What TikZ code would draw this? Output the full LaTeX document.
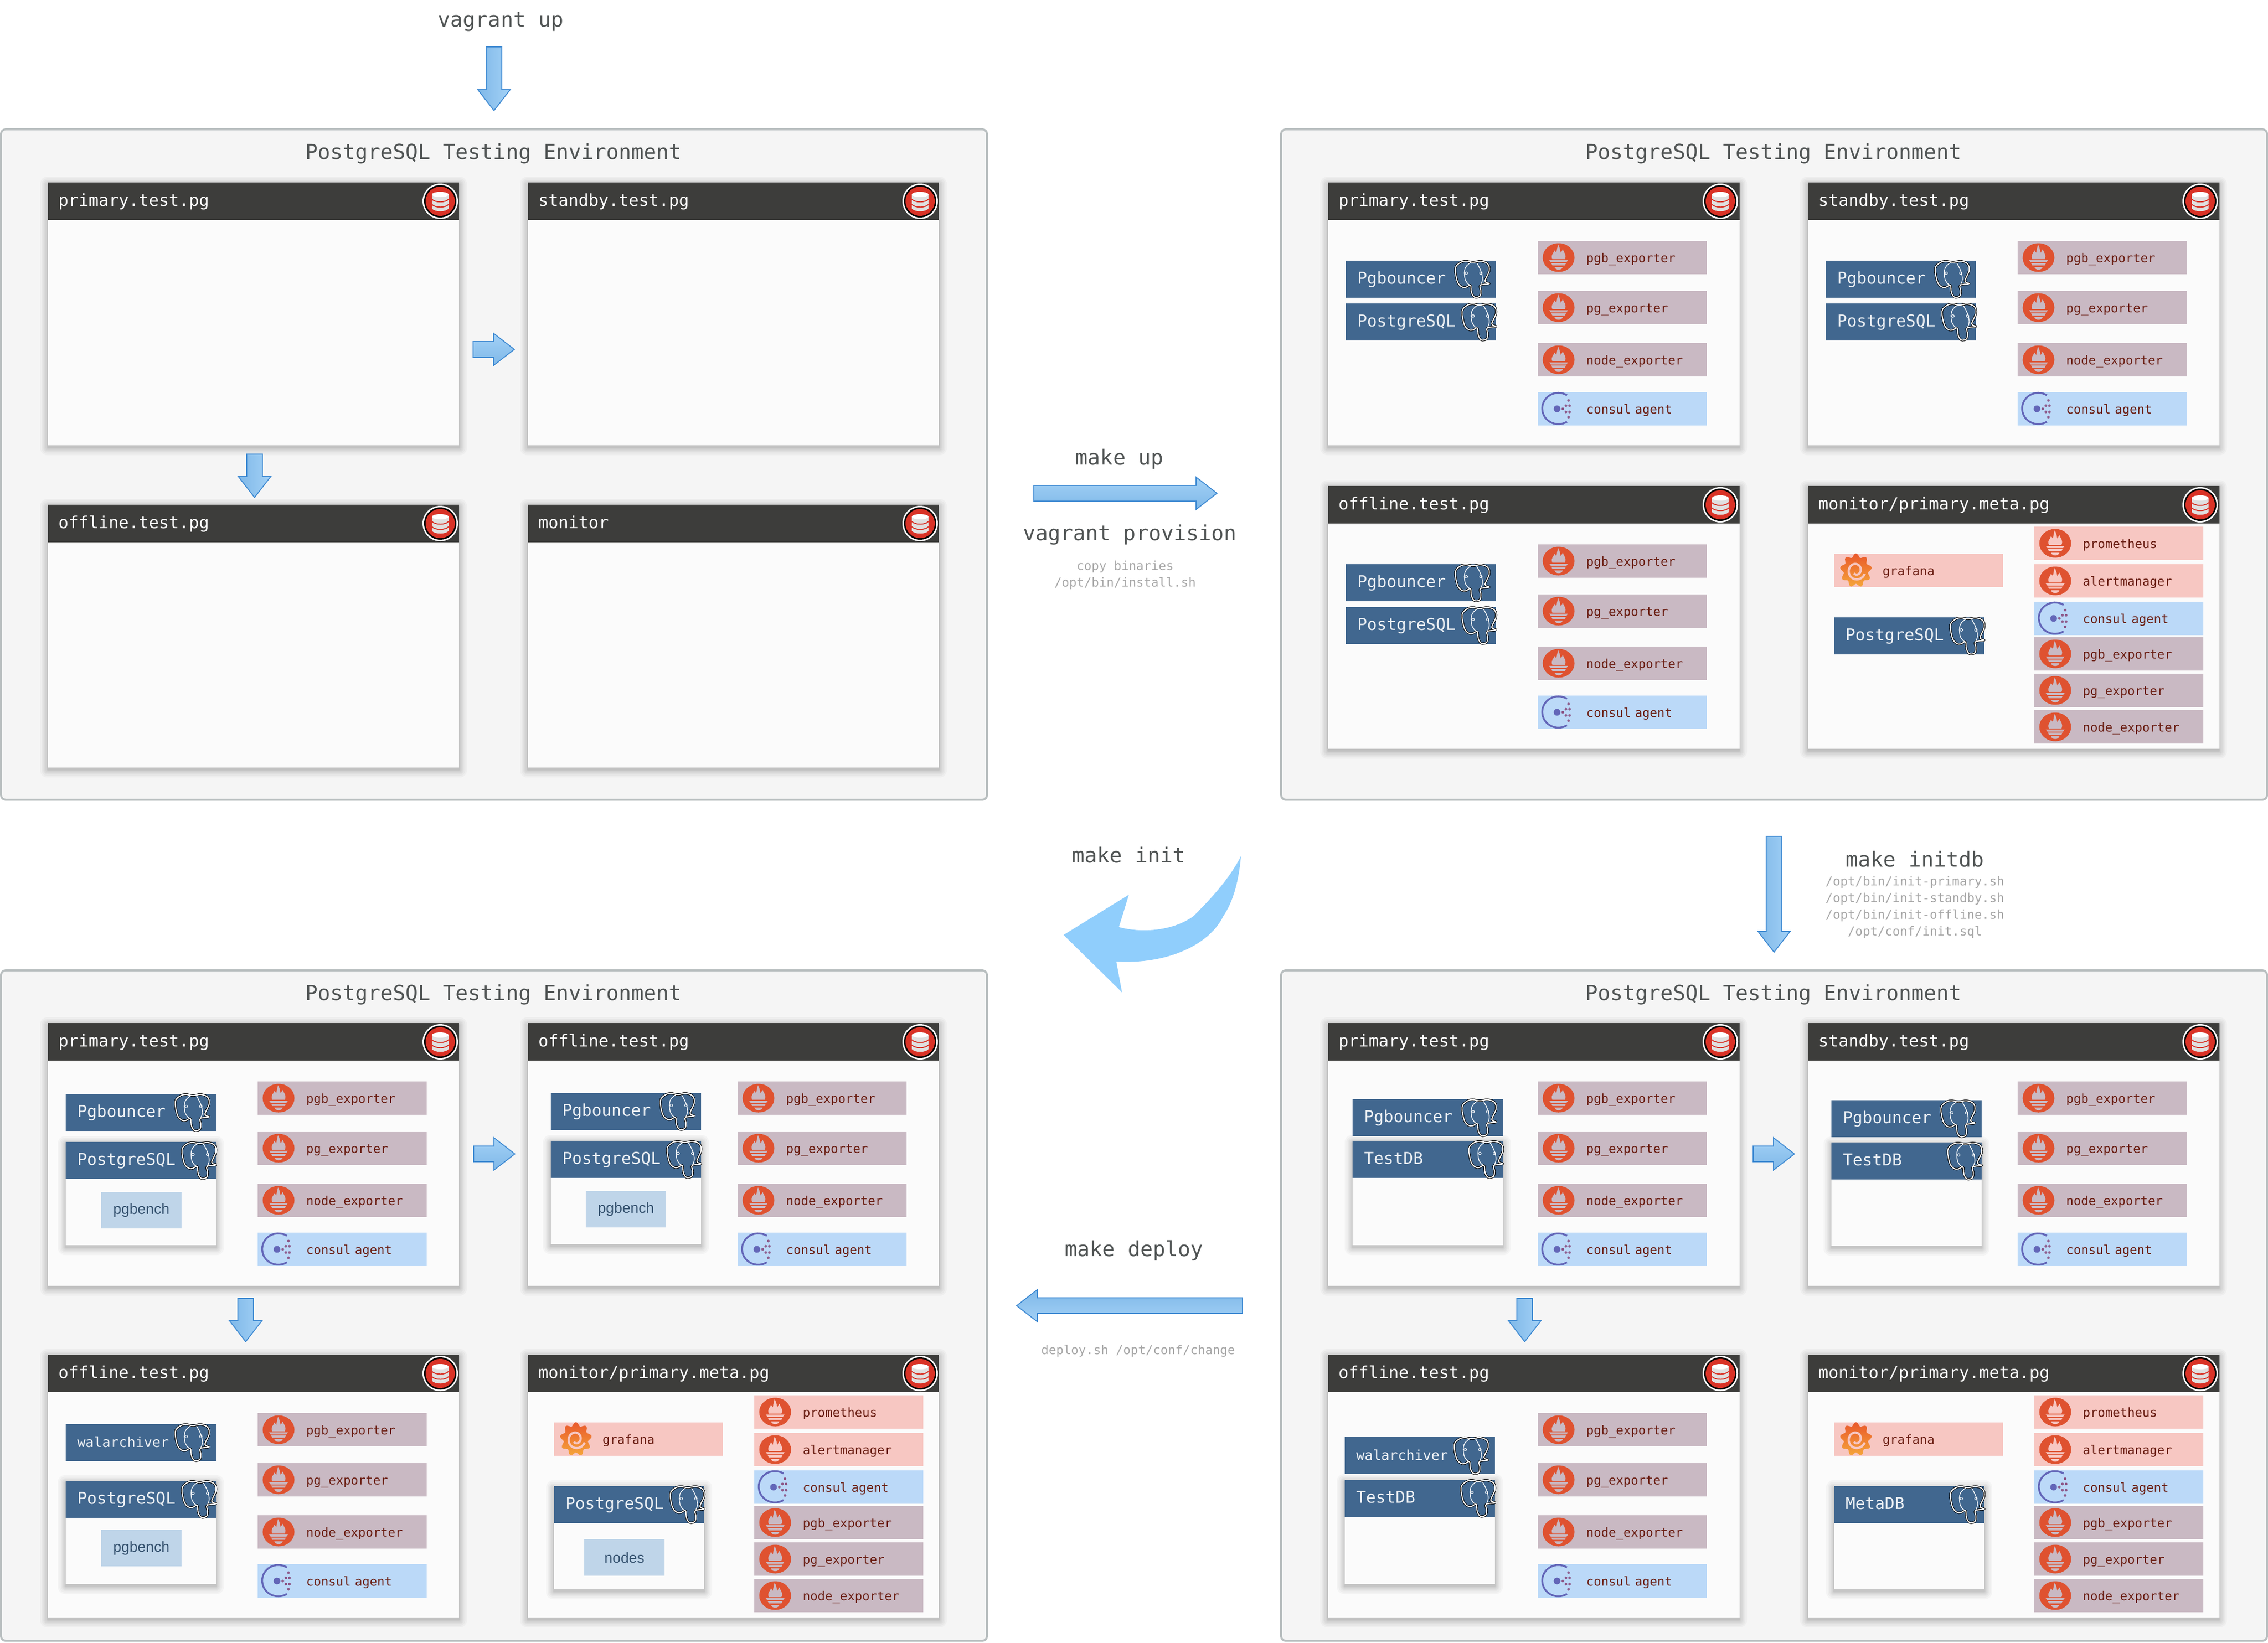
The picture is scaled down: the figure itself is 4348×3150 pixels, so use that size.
\documentclass[tikz,border=0pt]{standalone}
\usepackage{fontspec}
\newfontfamily\monofamily{DejaVu Sans Mono}
\newfontfamily\toolfamily{Liberation Sans}
\newcommand{\envfont}{\monofamily\fontsize{11.35}{13}\selectfont}
\newcommand{\headfont}{\monofamily\fontsize{9.1}{11}\selectfont}
\newcommand{\boxfont}{\monofamily\fontsize{8.9}{11}\selectfont}
\newcommand{\agentfont}{\monofamily\fontsize{6.73}{8}\selectfont}
\newcommand{\notefont}{\monofamily\fontsize{6.75}{9.05}\selectfont}
\newcommand{\toolfont}{\toolfamily\fontsize{8}{10}\selectfont}
\definecolor{envfill}{HTML}{F5F5F5}
\definecolor{envline}{HTML}{B9BFC0}
\definecolor{cardfill}{HTML}{FBFBFB}
\definecolor{headfill}{HTML}{3D3D3B}
\definecolor{pgblue}{HTML}{41678F}
\definecolor{agentfill}{HTML}{C9B9C3}
\definecolor{consulfill}{HTML}{BBD9F8}
\definecolor{metafill}{HTML}{F7C7C2}
\definecolor{toolfill}{HTML}{BFD5E9}
\definecolor{tooltext}{HTML}{35526F}
\definecolor{agenttext}{HTML}{6B1F14}
\definecolor{flame}{HTML}{DF5230}
\definecolor{dbred}{HTML}{D93327}
\definecolor{consularc}{HTML}{6366B8}
\definecolor{consuldot}{HTML}{8E5A8A}
\definecolor{graftop}{HTML}{E9582B}
\definecolor{graflow}{HTML}{F5A53A}
\definecolor{arrowline}{HTML}{3F8AD2}
\definecolor{arrowtop}{HTML}{A3D1F6}
\definecolor{arrowlow}{HTML}{7FB8E8}
\definecolor{curvefill}{HTML}{90CEFC}
\definecolor{labeltext}{HTML}{505454}
\definecolor{notetext}{HTML}{A8A8A8}
\tikzset{
    every node/.append style={outer sep=0pt},
    envbox/.style={draw=envline, line width=1.1pt, fill=envfill, rounded corners=2.5pt, anchor=north west,
        minimum width=18.89cm, inner sep=0pt},
    envtitle/.style={font=\envfont, text=labeltext, inner sep=0pt},
    cardbody/.style={fill=cardfill, anchor=north west, minimum width=7.88cm, inner sep=0pt},
    headbar/.style={fill=headfill, text=white, font=\headfont, anchor=north west, inner sep=0pt,
        text width=7.88cm, minimum height=.72cm, text height=.76em, text depth=.24em},
    pgbar/.style={fill=pgblue, text=white!90!pgblue, font=\boxfont, anchor=north west, inner sep=0pt,
        text width=2.88cm, minimum height=.71cm, text height=.76em, text depth=.24em},
    agentbox/.style={text=agenttext, font=\agentfont, anchor=north west, inner sep=0pt,
        text width=3.24cm, minimum height=.64cm, text height=.76em, text depth=.24em},
    toolbox/.style={fill=toolfill, text=tooltext, font=\toolfont, anchor=north west, inner sep=0pt,
        minimum width=1.54cm, minimum height=.7cm},
    cmdlabel/.style={font=\envfont, text=labeltext, inner sep=0pt},
    cmdnote/.style={font=\notefont, text=notetext, inner sep=0pt, align=center},
    blockarrow/.style={draw=arrowline, line width=.5pt, top color=arrowtop, bottom color=arrowlow},
}
% soft shadow round a box
\newcommand{\softshadow}[4]{%
    \foreach \s in {1,2,3,5,7,9,12,15}
        \fill[black, opacity=.028, rounded corners=\s*.25pt] ({#1-\s},{#2-\s+4}) rectangle ({#3+\s},{#4+\s+4});
}
\newcommand{\dbicon}[2]{%
    \begin{scope}[shift={(#1,#2)}]
        \fill[white] (0,0) circle (34);
        \fill[black] (0,0) circle (31);
        \fill[dbred] (0,0) circle (28);
        \fill[black!12] (-16,-13) rectangle (16,14) (-16,14) .. controls (-10,21) and (10,21) .. (16,14) -- cycle;
        \fill[white] (0,-13) ellipse (16 and 5);
        \draw[dbred, line width=.55pt] (-16,-4) .. controls (-10,3) and (10,3) .. (16,-4);
        \draw[dbred, line width=.55pt] (-16,6) .. controls (-10,13) and (10,13) .. (16,6);
    \end{scope}
}
\newcommand{\elephant}[2]{%
    \begin{scope}[shift={(#1,#2)}]
        \draw[draw=black, double=white, double distance=.6pt, line width=.3pt, fill=pgblue, line join=round]
            plot[smooth cycle, tension=.6] coordinates {(10,4) (1,15) (5,40) (13,50) (21,51) (30,47) (32,61)
                (38,70) (48,68) (50,58) (49,47) (66,44) (58,39) (66,19) (63,6) (50,1) (35,3) (21,1)};
        \draw[white, line width=.4pt] plot[smooth, tension=.7] coordinates {(31,3) (20,14) (19,32) (24,43) (30,47)};
        \draw[white, line width=.4pt] plot[smooth, tension=.7] coordinates {(42,4) (50,20) (53,36) (49,47)};
        \draw[white, line width=.3pt] (22,24) circle (2.5) (50,24) circle (2.5);
    \end{scope}
}
\newcommand{\flameicon}[3]{%
    \begin{scope}[shift={(#1,#2)}]
        \fill[flame] (0,0) ellipse (30.5 and 27.5);
        \fill[#3] (-12,3) .. controls (-16,-6) and (-9,-8) .. (-8,-14) .. controls (-6,-11) and (-5,-10) .. (-4,-9)
            .. controls (-4,-15) and (-2,-20) .. (-1,-25) .. controls (2,-20) and (3,-14) .. (4,-9)
            .. controls (5,-11) and (7,-13) .. (8,-16) .. controls (10,-9) and (16,-6) .. (12,3) -- cycle;
        \fill[#3] (-18,5) -- (18,5) -- (15,9) -- (-15,9) -- cycle;
        \fill[#3] (-14,11) -- (14,11) -- (12,15) -- (-12,15) -- cycle;
        \fill[#3] (-8,18) -- (8,18) .. controls (6,25) and (-6,25) .. (-8,18) -- cycle;
    \end{scope}
}
\newcommand{\consulicon}[2]{%
    \begin{scope}[shift={(#1,#2)}]
        \draw[consularc, line width=1pt] (16,-26) arc[start angle=-58, end angle=-302, x radius=31, y radius=30];
        \fill[consularc] (-3,0) circle (6.5);
        \foreach \dx/\dy in {8/0, 14/-6, 14/6, 21/-6, 21/6, 19/-16, 19/16}
            \fill[consuldot] (\dx,\dy) circle (2.6);
    \end{scope}
}
\newcommand{\grafanaicon}[3]{%
    \begin{scope}[shift={(#1,#2)}]
        \shade[top color=graftop, bottom color=graflow]
            plot[domain=0:360, samples=91] ({(27+3.5*cos(9*\x+90))*cos(\x)},{(29+3.5*cos(9*\x+90))*sin(\x)}) -- cycle;
        \draw[#3, line width=1.2pt] plot[domain=0:470, samples=50, smooth] ({(18-\x*.026)*cos(\x+20)},{(19-\x*.026)*sin(\x+20)});
    \end{scope}
}
% name, x, y, fill, text
\newcommand{\flamebox}[5]{%
    \node[agentbox, fill=#4] (#1) at (#2,#3) {\hspace*{.93cm}#5};
    \flameicon{#2+40}{#3+32}{#4}
}
\newcommand{\consulbox}[3]{%
    \node[agentbox, fill=consulfill] (#1) at (#2,#3) {\hspace*{.93cm}consul agent};
    \consulicon{#2+40}{#3+32}
}
% exporters of a plain host
\newcommand{\agentset}{%
    \foreach \yy/\nn/\tt in {112/pgbexp/pgb\_exporter, 208/pgexp/pg\_exporter, 308/nodeexp/node\_exporter}
        {\flamebox{\nn}{402}{\yy}{agentfill}{\tt}}
    \consulbox{consul}{402}{402}
}
% exporters of the monitor host
\newcommand{\metaset}{%
    \flamebox{prom}{434}{78}{metafill}{prometheus}
    \flamebox{alert}{434}{150}{metafill}{alertmanager}
    \consulbox{consul}{434}{222}
    \flamebox{pgbexp}{434}{290}{agentfill}{pgb\_exporter}
    \flamebox{pgexp}{434}{360}{agentfill}{pg\_exporter}
    \flamebox{nodeexp}{434}{430}{agentfill}{node\_exporter}
    \node[agentbox, fill=metafill] (grafana) at (50,130) {\hspace*{.93cm}grafana};
    \grafanaicon{92}{162}{metafill}
}
% name, x, y, text, elephant x
\newcommand{\pgbox}[5]{%
    \node[pgbar] (#1) at (#2,#3) {\hspace*{.22cm}#4};
    \elephant{#2+#5}{#3}
}
% name, x, y, text, body height
\newcommand{\pgframe}[5]{%
    \softshadow{#2}{#3}{#2+288}{#3+#5}
    \node[cardbody, minimum width=2.88cm, minimum height=#5*.01cm] (#1frame) at (#2,#3) {};
    \pgbox{#1}{#2}{#3}{#4}{222}
}
% name, x, y, title, content
\newcommand{\hostcard}[5]{%
    \begin{scope}[shift={(#2,#3)}, name prefix=#1-]
        \softshadow{0}{0}{788}{504}
        \node[cardbody, minimum height=5.04cm] (body) at (0,0) {};
        \node[headbar] (head) at (0,0) {\hspace*{.2cm}#4};
        \dbicon{752}{36}
        #5
    \end{scope}
}
% name, x, y
\newcommand{\testenv}[3]{%
    \node[envbox, minimum height=12.85cm] (#1) at (#2,#3) {};
    \node[envtitle] (#1title) at (#2+944,#3+47) {PostgreSQL Testing Environment};
}
% x, y, rotation, length
\newcommand{\flowarrow}[4]{%
    \begin{scope}[shift={(#1,#2)}, rotate=#3]
        \shade[blockarrow, shading angle=#3] (0,-15) -- (#4-40,-15) -- (#4-40,-31) -- (#4,0) -- (#4-40,31) -- (#4-40,15) -- (0,15) -- cycle;
    \end{scope}
}
\begin{document}
\begin{tikzpicture}[x=0.01cm,y=-0.01cm]
    \useasboundingbox (0,0) rectangle (4348,3150);
    \fill[white] (0,0) rectangle (4348,3150);
    % top left
    \node[cmdlabel] (vagrantup) at (960,42) {vagrant up};
    \flowarrow{947}{90}{-90}{122}
    \testenv{envbare}{2}{248}
    \hostcard{ba}{92}{350}{primary.test.pg}{}
    \hostcard{bb}{1012}{350}{standby.test.pg}{}
    \hostcard{bc}{92}{968}{offline.test.pg}{}
    \hostcard{bd}{1012}{968}{monitor}{}
    \flowarrow{907}{670}{0}{79}
    \flowarrow{488}{871}{-90}{83}
    % top right
    \node[cmdlabel] (makeup) at (2146,880) {make up};
    \flowarrow{1982}{946}{0}{351}
    \node[cmdlabel] (provision) at (2166,1026) {vagrant provision};
    \node[cmdnote] (provisionnote) at (2157,1103) {copy binaries\\/opt/bin/install.sh};
    \testenv{envprov}{2456}{248}
    \hostcard{pa}{2546}{350}{primary.test.pg}{%
        \pgbox{pgb}{34}{150}{Pgbouncer}{209}
        \pgbox{pg}{34}{232}{PostgreSQL}{222}
        \agentset}
    \hostcard{pb}{3466}{350}{standby.test.pg}{%
        \pgbox{pgb}{34}{150}{Pgbouncer}{209}
        \pgbox{pg}{34}{232}{PostgreSQL}{222}
        \agentset}
    \hostcard{pc}{2546}{932}{offline.test.pg}{%
        \pgbox{pgb}{34}{150}{Pgbouncer}{209}
        \pgbox{pg}{34}{232}{PostgreSQL}{222}
        \agentset}
    \hostcard{pd}{3466}{932}{monitor/primary.meta.pg}{%
        \metaset
        \pgbox{pg}{50}{252}{PostgreSQL}{222}}
    % bottom right
    \flowarrow{3401}{1604}{-90}{222}
    \node[cmdlabel] (makeinitdb) at (3671,1648) {make initdb};
    \node[cmdnote] (initnote) at (3671,1740) {/opt/bin/init-primary.sh\\/opt/bin/init-standby.sh\\/opt/bin/init-offline.sh\\/opt/conf/init.sql};
    \testenv{envinit}{2456}{1861}
    \hostcard{ia}{2546}{1962}{primary.test.pg}{%
        \pgbox{pgb}{47}{146}{Pgbouncer}{209}
        \pgframe{pg}{47}{226}{TestDB}{200}
        \agentset}
    \hostcard{ib}{3466}{1962}{standby.test.pg}{%
        \pgbox{pgb}{45}{148}{Pgbouncer}{209}
        \pgframe{pg}{45}{229}{TestDB}{198}
        \agentset}
    \hostcard{ic}{2546}{2598}{offline.test.pg}{%
        \pgbox{wal}{32}{158}{\fontsize{7.55}{9}\selectfont walarchiver}{209}
        \pgframe{pg}{32}{240}{TestDB}{200}
        \agentset}
    \hostcard{id}{3466}{2598}{monitor/primary.meta.pg}{%
        \metaset
        \pgframe{pg}{50}{252}{MetaDB}{198}}
    \flowarrow{3361}{2213}{0}{79}
    \flowarrow{2923}{2490}{-90}{83}
    % bottom left
    \node[cmdlabel] (makeinit) at (2164,1640) {make init};
    \fill[curvefill] (2379,1642) .. controls (2374,1700) and (2360,1735) .. (2345,1757) .. controls (2320,1810) and (2240,1850) .. (2140,1844)
        -- (2151,1903) -- (2039,1793) -- (2164,1716) -- (2145,1778)
        .. controls (2190,1790) and (2250,1785) .. (2288,1757) .. controls (2310,1735) and (2355,1690) .. (2379,1642) -- cycle;
    \node[cmdlabel] (makedeploy) at (2174,2398) {make deploy};
    \flowarrow{2382}{2504}{180}{433}
    \node[cmdnote] (deploynote) at (2182,2591) {deploy.sh /opt/conf/change};
    \testenv{envtest}{2}{1861}
    \hostcard{ta}{92}{1962}{primary.test.pg}{%
        \pgbox{pgb}{34}{136}{Pgbouncer}{209}
        \pgframe{pg}{34}{228}{PostgreSQL}{198}
        \node[toolbox] (bench) at (102,324) {pgbench};
        \agentset}
    \hostcard{tb}{1012}{1962}{offline.test.pg}{%
        \pgbox{pgb}{44}{134}{Pgbouncer}{209}
        \pgframe{pg}{44}{226}{PostgreSQL}{198}
        \node[toolbox] (bench) at (111,322) {pgbench};
        \agentset}
    \hostcard{tc}{92}{2598}{offline.test.pg}{%
        \pgbox{wal}{34}{133}{\fontsize{7.55}{9}\selectfont walarchiver}{209}
        \pgframe{pg}{34}{242}{PostgreSQL}{198}
        \node[toolbox] (bench) at (102,336) {pgbench};
        \agentset}
    \hostcard{td}{1012}{2598}{monitor/primary.meta.pg}{%
        \metaset
        \pgframe{pg}{50}{252}{PostgreSQL}{198}
        \node[toolbox] (nodes) at (108,354) {nodes};}
    \flowarrow{908}{2213}{0}{79}
    \flowarrow{471}{2490}{-90}{83}
\end{tikzpicture}
\end{document}
